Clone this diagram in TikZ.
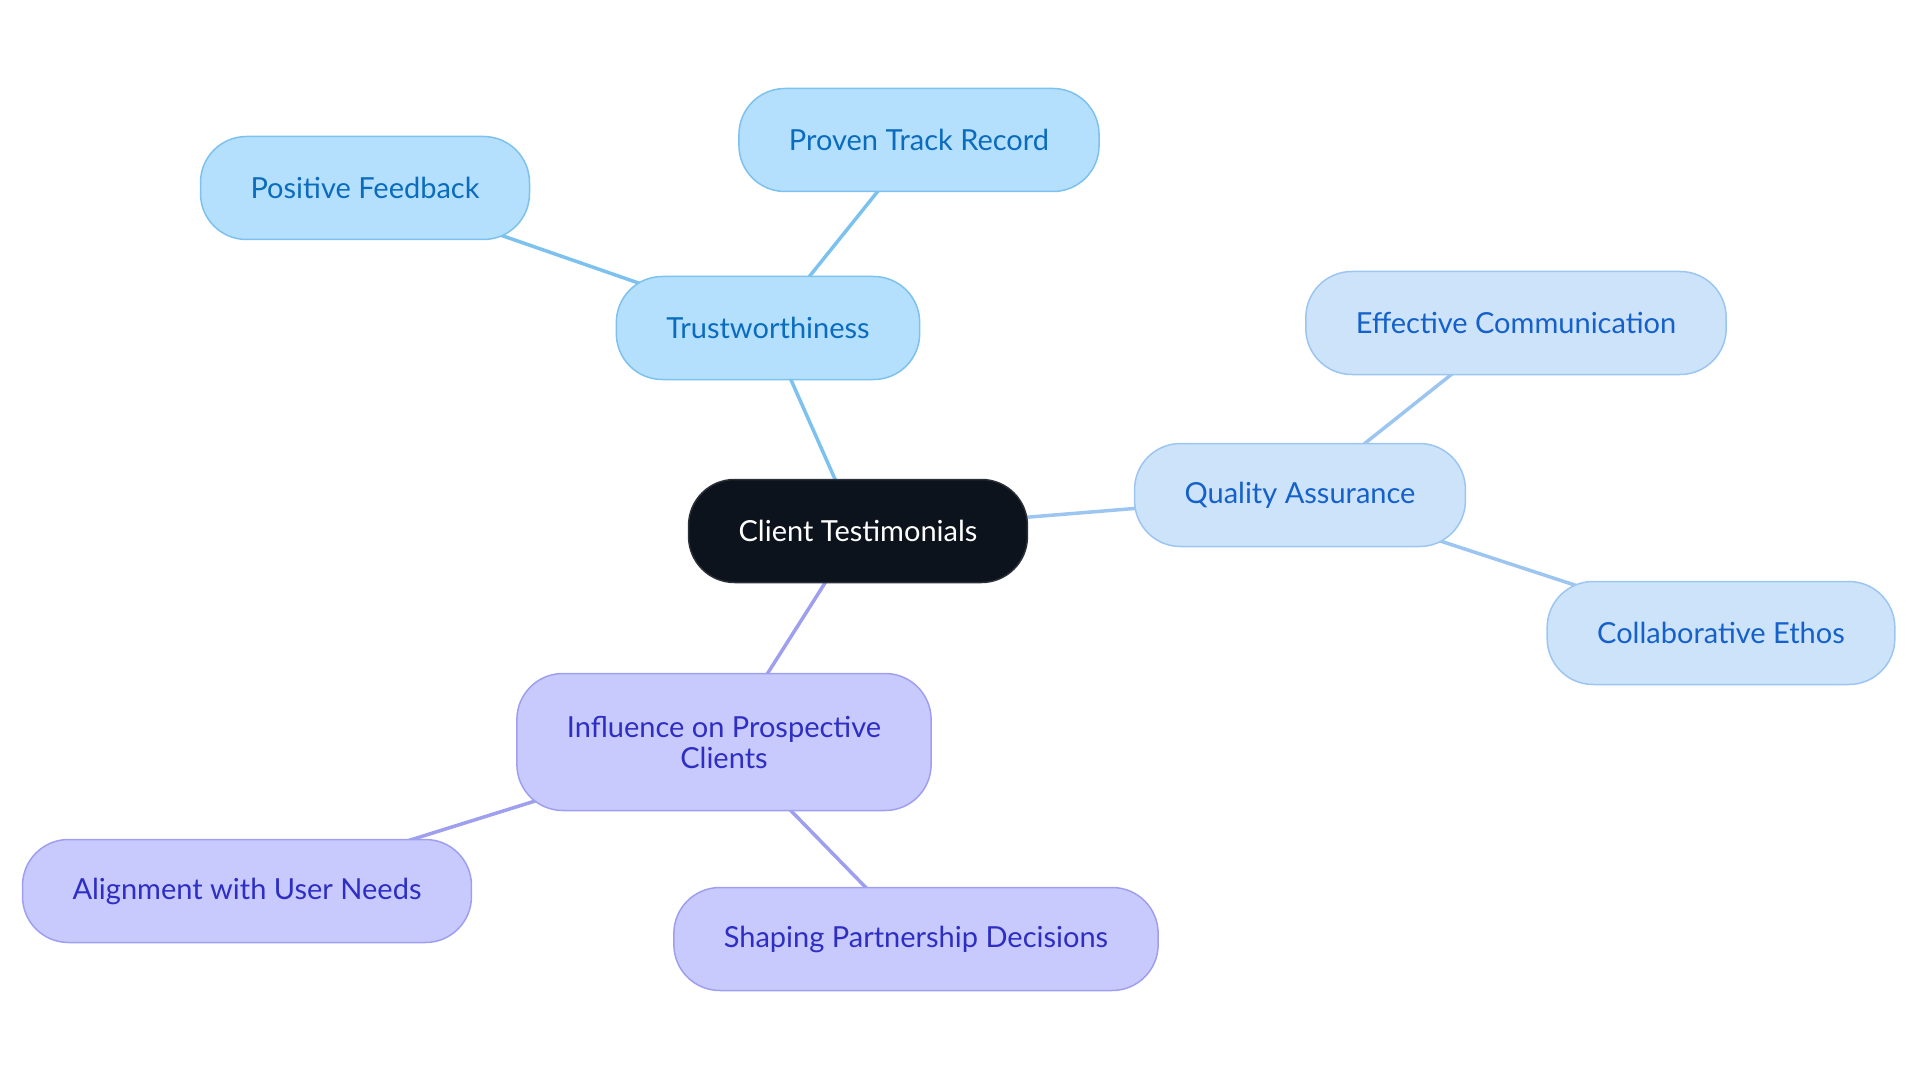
\documentclass[tikz,border=0pt]{standalone}
\usepackage{fontspec}
\setmainfont{Lato}
\usepackage{tikz}
\usetikzlibrary{backgrounds}
\usepackage{xcolor}
\definecolor{rootfill}{HTML}{0D131C}
\definecolor{rootdraw}{HTML}{2B3038}
\definecolor{trustfill}{HTML}{B5E0FD}
\definecolor{trustdraw}{HTML}{7DC1EF}
\definecolor{trusttext}{HTML}{0B6CBE}
\definecolor{qualfill}{HTML}{CCE3FA}
\definecolor{qualdraw}{HTML}{9CC6F1}
\definecolor{qualtext}{HTML}{1561C9}
\definecolor{inflfill}{HTML}{C8C9FD}
\definecolor{infldraw}{HTML}{9E9FEF}
\definecolor{infltext}{HTML}{2E2FC2}
\tikzset{
  mapbox/.style={
    rounded corners=46pt,
    line width=1.5pt,
    minimum height=103pt,
    inner xsep=50pt,
    align=center,
    font=\fontsize{29}{31}\selectfont
  },
  rootbox/.style={mapbox, draw=rootdraw, fill=rootfill, text=white},
  trustbox/.style={mapbox, draw=trustdraw, fill=trustfill, text=trusttext},
  qualbox/.style={mapbox, draw=qualdraw, fill=qualfill, text=qualtext},
  inflbox/.style={mapbox, draw=infldraw, fill=inflfill, text=infltext},
  link/.style={line width=3.5pt}
}

\begin{document}
\begin{tikzpicture}[x=1pt, y=-1pt]
\useasboundingbox (0,0) rectangle (1920,1083);
\node[rootbox] (root) at (858,531) {Client Testimonials};
\node[trustbox] (trust) at (768,328) {Trustworthiness};
\node[trustbox] (track) at (919,140) {Proven Track Record};
\node[trustbox] (feedback) at (365,188) {Positive Feedback};
\node[qualbox] (quality) at (1300,495) {Quality Assurance};
\node[qualbox] (comm) at (1516,323) {Effective Communication};
\node[qualbox] (ethos) at (1721,633) {Collaborative Ethos};
\node[inflbox, minimum height=137pt] (influence) at (724,742) {Influence on Prospective\\Clients};
\node[inflbox] (needs) at (247,891) {Alignment with User Needs};
\node[inflbox] (shaping) at (916,939) {Shaping Partnership Decisions};
\begin{scope}[on background layer]
\draw[link, trustdraw] (root.center) -- (trust.center);
\draw[link, trustdraw] (trust.center) -- (track.center);
\draw[link, trustdraw] (trust.center) -- (feedback.center);
\draw[link, qualdraw] (root.center) -- (quality.center);
\draw[link, qualdraw] (quality.center) -- (comm.center);
\draw[link, qualdraw] (quality.center) -- (ethos.center);
\draw[link, infldraw] (root.center) -- (influence.center);
\draw[link, infldraw] (influence.center) -- (needs.center);
\draw[link, infldraw] (influence.center) -- (shaping.center);
\end{scope}
\end{tikzpicture}
\end{document}
